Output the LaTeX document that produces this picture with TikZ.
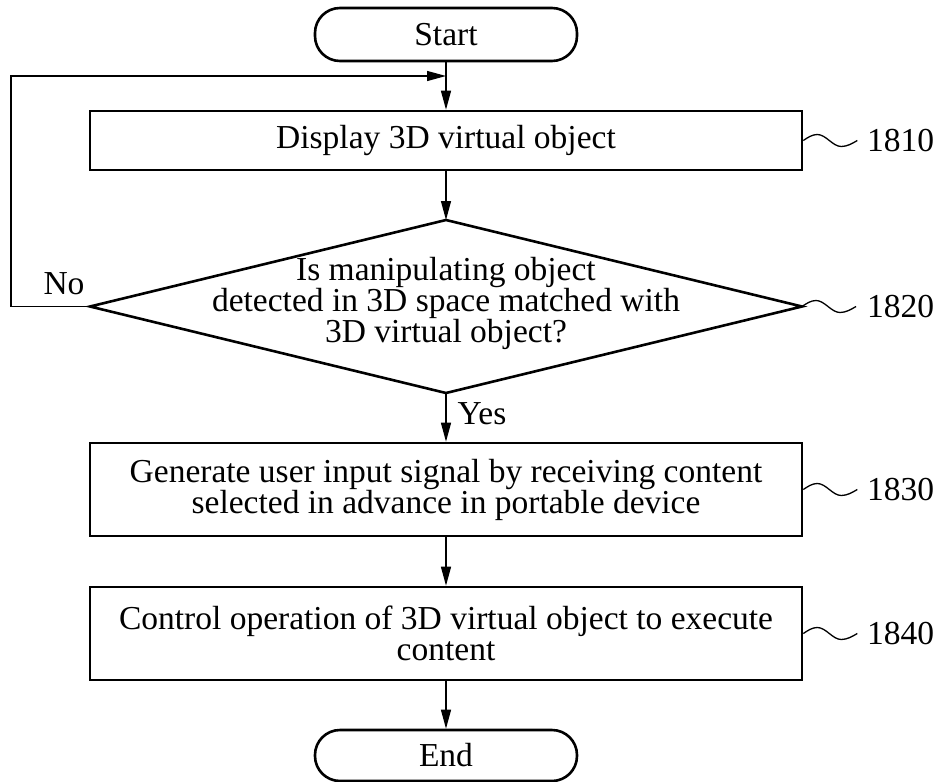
\documentclass[tikz,border=0pt]{standalone}
\usepackage{fontspec}
\setmainfont{Liberation Serif}
\usetikzlibrary{arrows.meta}
\newcommand\figfont{\fontsize{33.5}{31}\selectfont}
\begin{document}
\begin{tikzpicture}[x=1pt,y=1pt,
  box/.style={draw, line width=2.6pt, minimum width=712pt, inner sep=0pt, align=center, font=\figfont},
  term/.style={draw, line width=2.6pt, rounded corners=25pt, minimum width=262pt, inner sep=0pt, font=\figfont},
  conn/.style={line width=1.3pt, -{Triangle[length=19pt,width=10pt]}},
  sq/.style={line width=1.3pt},
  lbl/.style={font=\figfont, anchor=west, inner sep=0pt},
  txt/.style={font=\figfont, inner sep=0pt, align=center},
]
\useasboundingbox (0,0) rectangle (938,-782);

\node[term, minimum height=53pt] (start) at (446,-34.5) {Start};
\node[box, minimum height=59pt] (b1810) at (446,-140.5) {Display 3D virtual object};

\coordinate (dt) at (446,-220);
\coordinate (db) at (446,-393);
\coordinate (dl) at (90,-306.5);
\coordinate (dr) at (802,-306.5);
\draw[line width=2.6pt, line join=miter] (dt) -- (dr) -- (db) -- (dl) -- cycle;
\node[txt] (dtext) at (446,-303) {Is manipulating object\\detected in 3D space matched with\\3D virtual object?};

\node[box, minimum height=93pt] (b1830) at (446,-489.5) {Generate user input signal by receiving content\\selected in advance in portable device};
\node[box, minimum height=93pt] (b1840) at (446,-633.5) {Control operation of 3D virtual object to execute\\content};
\node[term, minimum height=51pt] (end) at (446,-755.5) {End};

\coordinate (j) at (446,-76);
\coordinate (lc) at (11,-306.5);
\draw[conn] (start) -- (b1810);
\draw[conn] (dl) -- (lc) |- (j);
\draw[conn] (b1810) -- (dt);
\draw[conn] (db) -- (b1830);
\draw[conn] (b1830) -- (b1840);
\draw[conn] (b1840) -- (end);

\node[txt] (no) at (64,-284) {No};
\node[txt] (yes) at (482,-414) {Yes};

\node[lbl] (l1810) at (867,-140.5) {1810};
\node[lbl] (l1820) at (867,-306.5) {1820};
\node[lbl] (l1830) at (867,-489.5) {1830};
\node[lbl] (l1840) at (867,-633.5) {1840};

\draw[sq] (b1810.east) sin ++(14,6) cos ++(12,-6) sin ++(12,-6) cos ++(16,6);
\draw[sq] (dr) sin ++(14,6) cos ++(12,-6) sin ++(12,-6) cos ++(16,6);
\draw[sq] (b1830.east) sin ++(14,6) cos ++(12,-6) sin ++(12,-6) cos ++(16,6);
\draw[sq] (b1840.east) sin ++(14,6) cos ++(12,-6) sin ++(12,-6) cos ++(16,6);
\end{tikzpicture}
\end{document}
